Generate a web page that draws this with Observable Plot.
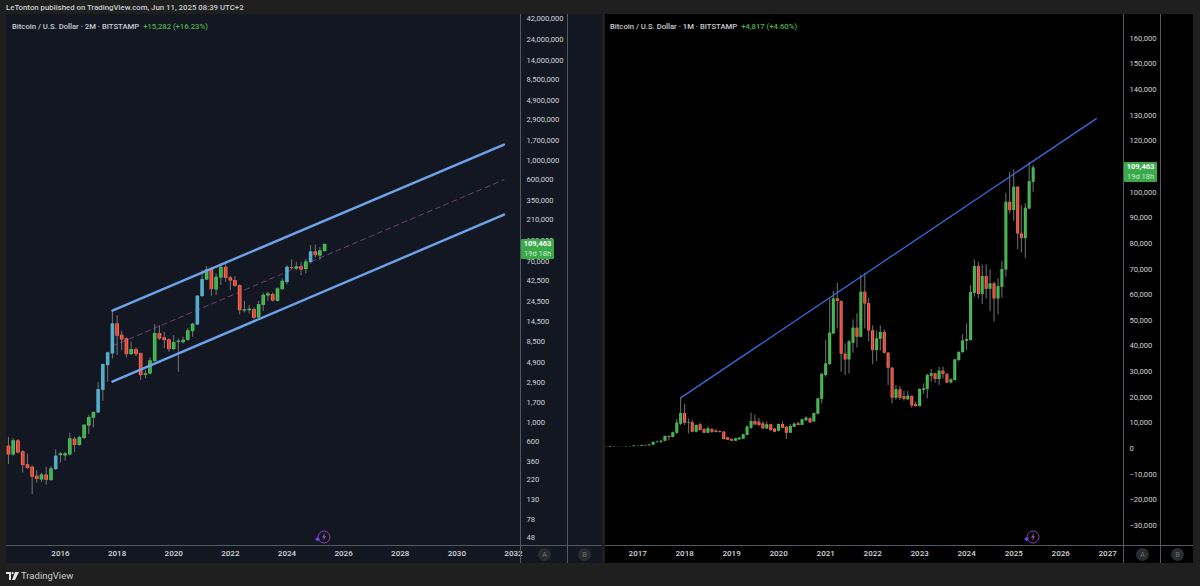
<!DOCTYPE html>
<html>
<head>
<meta charset="utf-8">
<script src="https://cdn.jsdelivr.net/npm/d3@7"></script>
<script src="https://cdn.jsdelivr.net/npm/@observablehq/plot@0.6"></script>
<style>
html,body{margin:0;padding:0;background:#1f1f1f;overflow:hidden}
#page{position:relative;width:1200px;height:586px;background:#1f1f1f;font-family:Roboto,"Liberation Sans",sans-serif;overflow:hidden}
.abs{position:absolute}
.pane{position:absolute;top:14px;height:549px;box-sizing:border-box}
.vline{position:absolute;width:1px;top:14px;height:549px;background:#55585f}
.hline{position:absolute;height:1px;top:545px;background:#55585f}
.head{position:absolute;top:22px;font-size:7.7px;color:#c9ccd3;white-space:nowrap;font-weight:500}
.head b{font-weight:500;color:#4caf50;margin-left:4px}
.tag{position:absolute;background:#39a949;color:#fff;text-align:center;width:33px;height:20px;font-size:7.5px;line-height:10px;border-radius:1px}
.tag .p{font-weight:700;display:block}
.tag .c{color:#cdeccf;display:block}
.btn{position:absolute;top:548px;width:13px;height:13px;border-radius:50%;background:#2a2c30;color:#6f7278;font-size:7.5px;line-height:13px;text-align:center}
</style>
</head>
<body>
<div id="page">
  <div class="abs" style="left:6px;top:3px;font-size:7.8px;color:#c9ccd3;white-space:nowrap;font-weight:500">LeTonton published on TradingView.com, Jun 11, 2025 08:39 UTC+2</div>
  <div class="pane" id="L" style="left:6px;width:596px;background:#131722"></div>
  <div class="pane" id="R" style="left:605px;width:588px;background:#000"></div>
  <div class="hline" style="left:6px;width:596px"></div>
  <div class="hline" style="left:605px;width:588px"></div>
  <div class="vline" style="left:520px"></div>
  <div class="vline" style="left:567px"></div>
  <div class="vline" style="left:1123px"></div>
  <div class="vline" style="left:1160px"></div>
  <div class="head" style="left:12px">Bitcoin / U.S. Dollar · 2M · BITSTAMP<b>+15,282 (+16.23%)</b></div>
  <div class="head" style="left:610px">Bitcoin / U.S. Dollar · 1M · BITSTAMP<b>+4,817 (+4.60%)</b></div>
  <div class="tag" style="left:521px;top:239px"><span class="p">109,463</span><span class="c">19d 18h</span></div>
  <div class="tag" style="left:1124px;top:162px"><span class="p">109,463</span><span class="c">19d 18h</span></div>
  <div class="btn" style="left:538px">A</div><div class="btn" style="left:578px">B</div>
  <div class="btn" style="left:1136px">A</div><div class="btn" style="left:1171px">B</div>
  <svg class="abs" style="left:314px;top:529px" width="20" height="16" viewBox="0 0 20 16"><circle cx="10" cy="8" r="6" fill="none" stroke="#8e3fb5" stroke-width="1"/><path d="M11 4 L8 8.5 L10 8.5 L9 12 L12 7.3 L10.2 7.3 Z" fill="#9a55c4"/><path d="M3.5 8.3v4M1.5 10.3h4" stroke="#6a4df0" stroke-width="1.6"/></svg>
  <svg class="abs" style="left:1023px;top:529px" width="20" height="16" viewBox="0 0 20 16"><circle cx="10" cy="8" r="6" fill="none" stroke="#8e3fb5" stroke-width="1"/><path d="M11 4 L8 8.5 L10 8.5 L9 12 L12 7.3 L10.2 7.3 Z" fill="#9a55c4"/><path d="M3.5 8.3v4M1.5 10.3h4" stroke="#6a4df0" stroke-width="1.6"/></svg>
  <svg class="abs" style="left:6px;top:572px" width="13" height="9" viewBox="0 0 13 9"><path d="M0 0h5v8H3V2H0zM6 8l3-8h4l-4 8z" fill="#e4e4e4"/><circle cx="6.6" cy="1.2" r="1.1" fill="#e4e4e4"/></svg>
  <div class="abs" style="left:21px;top:570px;font-size:9.5px;color:#c9ccd3">TradingView</div>
</div>
<script>
// ---- left chart: 2-month candles from March 2014 ----
const leftOpen  = [536,427,617,462,328,308,243,221,250,217,290,419,416,427,644,546,656,916,1122,1290,2344,4489,6109,13450,9977,9064,5998,6843,6155,3480,3606,4989,10430,9306,8830,6843,8304,8226,8750,10990,13110,27670,42870,56360,32960,45190,59840,45190,42170,36980,18970,19100,19630,15770,21990,28130,29170,24430,33270,39990,59290,57280,60400,56360,67760,89720,80720,90570];
const leftHigh  = [679,656,638,478,438,319,282,263,308,314,487,454,454,755,679,698,949,1202,1324,2893,4691,6382,19120,16750,11090,9306,8304,7150,6266,3936,5495,13220,12880,10810,9064,9886,9064,9465,12000,13700,28380,54830,60950,59840,50230,65310,68280,47210,46770,37580,24430,21810,20510,24430,30170,30970,30470,34750,44060,62520,72610,68280,68280,73280,105900,107900,101400,110000];
const leftLow   = [331,412,438,265,292,150,202,207,192,213,282,343,364,416,454,536,644,729,869,1279,1754,2893,5346,5845,6668,5495,5845,5689,3024,3162,3540,4900,8670,6966,6382,6668,3767,7943,8530,9465,12880,27160,42170,27900,28380,36980,40360,32360,35320,17060,17990,17500,14960,15350,18620,24430,24030,24030,32360,37580,55850,54830,48080,50230,65310,76560,71450,89720];
const leftClose = [427,617,450,322,298,237,223,252,219,295,412,438,438,650,546,673,932,1140,1301,2386,4612,6266,13450,9727,8830,5998,6843,5998,3450,3606,5076,10430,9064,8670,6843,8226,8530,8750,11190,13340,27900,43250,56360,33270,46020,59840,44770,41780,36310,19100,19450,19820,15630,22390,28640,29650,24660,33810,41400,59840,57810,60400,55850,68870,89720,81470,92040,109463];
const leftBlueBars = [10,19,20,21,22,40,41,59,64];
const leftTicks = [42000000,24000000,14000000,8500000,4900000,2900000,1700000,1000000,600000,350000,210000,120000,70000,42500,24500,14500,8500,4900,2900,1700,1000,600,360,220,130,78,48];
const leftYears = [2016,2018,2020,2022,2024,2026,2028,2030,2032];
const leftDomainX = ["2014-02-04","2032-04-01"];
const channelDates  = ["2017-11-01","2031-09-01"];
const channelUpper  = [19100,1517000];
const channelMiddle = [7502,602600];
const channelLower  = [2942,239900];

// ---- right chart: monthly candles from May 2016 ----
const rightOpen  = [450,530,670,620,575,610,700,740,960,970,1190,1070,1350,2300,2470,2870,4680,4300,5980,9490,13650,9880,10010,6370,9230,7280,5980,7410,6760,6500,6370,4160,3510,2860,3380,3640,5070,7930,10530,10270,9620,7670,9230,7540,6760,9360,8320,5980,8320,9620,8970,10790,11570,10400,13390,19240,28470,32760,44720,58370,57330,36790,34580,41080,46930,43420,60970,56550,45890,38220,42640,45240,37180,31330,19630,22880,20280,19000,20280,17160,16380,22750,23010,28210,29120,26910,30160,28860,25610,26520,34320,37440,41860,42120,60580,70980,60060,67080,62140,64220,58370,62920,69680,96070,92820,101920,83720,81900,93470,103870];
const rightHigh  = [550,780,680,620,630,720,780,980,1150,1200,1300,1350,2700,2980,2900,4950,4980,6450,11300,19760,17160,11570,11000,9230,9900,7800,8400,7700,7300,6800,6500,4200,3700,4000,4100,5500,8900,13780,13000,11800,10500,10300,9500,7700,9600,10400,8500,9400,10000,10300,11400,12400,12000,13800,19400,29000,42120,58370,61360,64480,57600,40820,42200,50180,52520,67470,68380,58600,47900,45760,47840,46300,37400,31500,24570,24200,22360,22360,20800,18100,23400,25220,29000,30810,29400,31720,31720,29380,27170,34800,37900,44460,48620,63570,73580,72670,71630,71630,69680,64900,66170,73060,99580,107770,108680,102200,94770,95420,111670,110370];
const rightLow   = [440,520,600,480,570,600,680,740,750,920,900,1050,1350,2100,1800,2700,2950,4100,5400,8970,8970,5720,6110,6110,6800,5700,5900,5900,6100,6000,3200,3100,2800,2800,3300,3600,5000,7400,8900,8500,7500,7400,6600,6100,6500,7700,3510,5900,8200,8800,8900,10700,9900,10300,13300,17420,27820,32300,44500,46670,29770,28470,29120,37180,39260,43200,46670,41730,32760,33930,38000,36900,24570,17420,18900,18720,18460,18800,15730,16120,16120,21320,19370,25870,25480,24570,27110,25220,25220,26300,33900,37100,38220,41900,59020,58370,56160,58240,53430,49270,52260,58630,66820,91520,88660,77610,76180,74230,93100,99970];
const rightClose = [530,670,620,575,610,700,740,960,970,1190,1070,1350,2300,2480,2870,4680,4300,6110,9880,13650,9880,10100,6370,8970,7020,5980,7670,6370,6240,6240,3510,3250,2900,3770,4030,5330,8320,10530,9230,8970,7670,9230,7020,6370,9360,7930,5980,8580,9490,8970,11180,11830,10010,13650,19370,28990,33020,44980,58370,57330,36790,34580,41600,46930,43420,60970,56420,45890,38220,42770,45240,37180,31330,19630,22880,19630,19110,20410,16640,16380,23010,23270,28470,29120,26910,30160,28860,25610,26780,34580,37440,41990,42510,60840,70980,60060,67080,62140,64220,58370,63180,69810,96070,92820,101920,83720,81900,93730,104130,109463];
const rightTicks = [160000,150000,140000,130000,120000,100000,90000,80000,70000,60000,50000,40000,30000,20000,10000,0,-10000,-20000,-30000];
const rightYears = [2017,2018,2019,2020,2021,2022,2023,2024,2025,2026,2027];
const rightDomainX = ["2016-04-26","2027-05-04"];
const trendDates  = ["2017-12-01","2026-10-05"];
const trendValues = [19760,128700];

const utc = s => new Date(s + "T00:00:00Z");
const yearDate = y => new Date(Date.UTC(y, 0, 1));
const UP = "#3fb34b", UP_EDGE = "#5cc567", DOWN = "#e8402a", DOWN_EDGE = "#f4907b", BLUE = "#55aecb", WICK = "#72757c";
const TICK = "#d0d3d9";

function bars(dates, o, h, l, c, blue = []) {
  return dates.map((date, i) => ({
    date, open: o[i], high: h[i], low: l[i], close: c[i],
    tone: blue.includes(i) ? "blue" : (c[i] >= o[i] ? "up" : "down")
  }));
}
const edge = d => d.tone === "blue" ? BLUE : d.tone === "up" ? UP_EDGE : DOWN_EDGE;
const fill = d => d.tone === "blue" ? BLUE : d.tone === "up" ? UP : DOWN;

function candleMarks(rows, bodyWidth) {
  return [
    Plot.ruleX(rows, {x: "date", y1: "low", y2: "high", stroke: WICK, strokeWidth: 1}),
    Plot.ruleX(rows, {x: "date", y1: d => Math.min(d.open, d.close), y2: d => Math.max(d.open, d.close), stroke: edge, strokeWidth: bodyWidth}),
    Plot.ruleX(rows, {x: "date", y1: d => Math.min(d.open, d.close), y2: d => Math.max(d.open, d.close), stroke: fill, strokeWidth: bodyWidth - 1.4})
  ];
}
function axes(ticks, years, xEnd) {
  return [
    // Plot's log axis drops labels when tick values are non-round, so the price labels are text marks on the scales.
    Plot.text(ticks, {x: () => utc(xEnd), y: d => d, textAnchor: "start", dx: 6, text: d3.format(","), fill: TICK, fontSize: 7.6}),
    Plot.axisX({anchor: "bottom", ticks: years.map(yearDate), tickSize: 0, tickPadding: 5, tickFormat: d3.utcFormat("%Y"), stroke: "none", fill: "#d6d8dd", fontSize: 8, fontWeight: 500, label: null})
  ];
}

// left pane
const leftRows = bars(d3.utcMonth.range(utc("2014-03-01"), utc("2025-07-01"), 2), leftOpen, leftHigh, leftLow, leftClose, leftBlueBars);
const lineRows = channelDates.map((d, i) => ({date: utc(d), upper: channelUpper[i], middle: channelMiddle[i], lower: channelLower[i]}));
const leftPlot = Plot.plot({
  width: 596, height: 549,
  marginLeft: 0, marginRight: 82, marginTop: 0, marginBottom: 18,
  style: {background: "transparent", fontFamily: "Roboto, sans-serif", overflow: "visible"},
  x: {type: "utc", domain: leftDomainX.map(utc)},
  y: {type: "log", domain: [39.2, 46800000], axis: null},
  marks: [
    Plot.line(lineRows, {x: "date", y: "middle", stroke: "#6f3f78", strokeWidth: 1, strokeDasharray: "5 4"}),
    ...candleMarks(leftRows, 3.6),
    Plot.line(lineRows, {x: "date", y: "upper", stroke: "#6ea3ea", strokeWidth: 2.4}),
    Plot.line(lineRows, {x: "date", y: "lower", stroke: "#6ea3ea", strokeWidth: 2.4}),
    ...axes(leftTicks, leftYears, leftDomainX[1])
  ]
});
document.getElementById("L").append(leftPlot);

// right pane
const rightRows = bars(d3.utcMonth.range(utc("2016-05-01"), utc("2025-07-01"), 1), rightOpen, rightHigh, rightLow, rightClose);
const trendRows = trendDates.map((d, i) => ({date: utc(d), value: trendValues[i]}));
const rightPlot = Plot.plot({
  width: 588, height: 549,
  marginLeft: 0, marginRight: 70, marginTop: 0, marginBottom: 18,
  style: {background: "transparent", fontFamily: "Roboto, sans-serif", overflow: "visible"},
  x: {type: "utc", domain: rightDomainX.map(utc)},
  y: {type: "linear", domain: [-37846, 169330], axis: null},
  marks: [
    ...candleMarks(rightRows, 3),
    Plot.line(trendRows, {x: "date", y: "value", stroke: "#3c68dc", strokeWidth: 1.3}),
    ...axes(rightTicks, rightYears, rightDomainX[1])
  ]
});
document.getElementById("R").append(rightPlot);
</script>
</body>
</html>
